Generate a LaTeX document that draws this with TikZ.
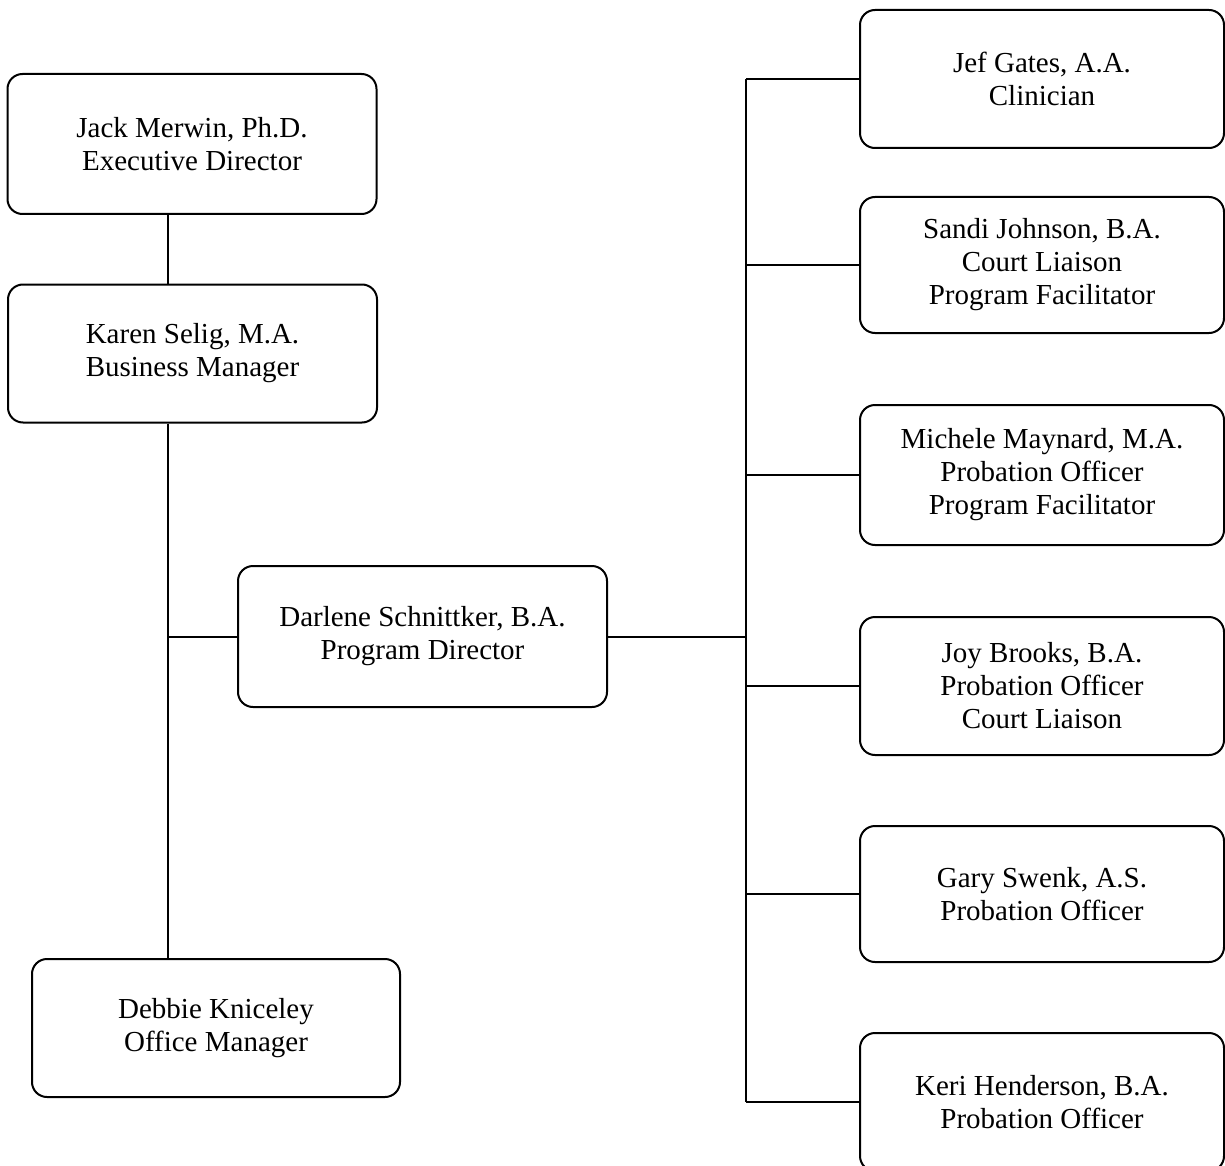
\documentclass[tikz,border=0pt]{standalone}
\usepackage{fontspec}
\setmainfont{Liberation Serif}
\begin{document}
\begin{tikzpicture}[x=0.5pt,y=-0.5pt,
  orgbox/.style={draw,line width=1pt,rounded corners=7.5pt,align=center,
    minimum width=184.5pt,minimum height=69pt,inner sep=0pt,
    font=\fontsize{14.5}{16.5}\selectfont},
  rbox/.style={orgbox,minimum width=182pt},
  link/.style={line width=1pt}]
\useasboundingbox (0,0) rectangle (1225,1166);
\begin{scope}
\clip (0,0) rectangle (1225,1166);
\node[orgbox,minimum height=70pt] (jack) at (192,144) {Jack Merwin, Ph.D.\\Executive Director};
\node[orgbox] (karen) at (192.5,353.5) {Karen Selig, M.A.\\Business Manager};
\node[orgbox,minimum height=70.5pt] (darlene) at (422.5,636.5) {Darlene Schnittker, B.A.\\Program Director};
\node[orgbox,minimum width=184pt] (debbie) at (216,1028) {Debbie Kniceley\\Office Manager};
\node[rbox] (jef) at (1042,79) {Jef Gates, A.A.\\Clinician};
\node[rbox,minimum height=68pt] (sandi) at (1042,265) {Sandi Johnson, B.A.\\Court Liaison\\Program Facilitator};
\node[rbox,minimum height=70pt] (michele) at (1042,475) {Michele Maynard, M.A.\\Probation Officer\\Program Facilitator};
\node[rbox] (joy) at (1042,686) {Joy Brooks, B.A.\\Probation Officer\\Court Liaison};
\node[rbox,minimum height=68pt] (gary) at (1042,894) {Gary Swenk, A.S.\\Probation Officer};
\node[rbox] (keri) at (1042,1102) {Keri Henderson, B.A.\\Probation Officer};

\coordinate (lspine) at (168,637);
\coordinate (rspine) at (746,637);

\draw[link] (jack.south -| lspine) -- (karen.north -| lspine);
\draw[link] (karen.south -| lspine) -- (debbie.north -| lspine);
\draw[link] (lspine) -- (darlene.west |- lspine);
\draw[link] (darlene.east |- rspine) -- (rspine);
\draw[link] (jef.west -| rspine) -- (keri.west -| rspine);
\foreach \n in {jef,sandi,michele,joy,gary,keri}
  \draw[link] (\n.west -| rspine) -- (\n.west);
\end{scope}
\end{tikzpicture}
\end{document}
